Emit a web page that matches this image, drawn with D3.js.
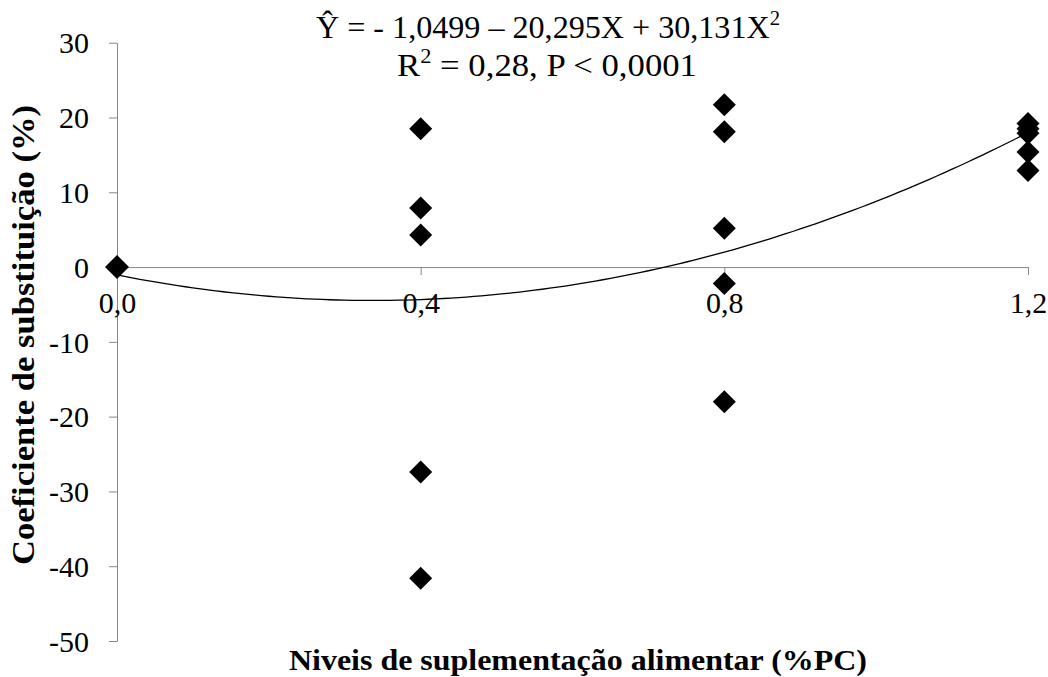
<!DOCTYPE html>
<html>
<head>
<meta charset="utf-8">
<script src="https://cdn.jsdelivr.net/npm/d3@7"></script>
<style>
  html, body { margin: 0; padding: 0; background: #fff; }
  svg { display: block; }
  text { font-family: "Liberation Serif", "Times New Roman", serif; fill: #000; }
</style>
</head>
<body>
<svg id="chart" width="1048" height="677"></svg>
<script>
// ---- data ----
const levels = [0, 0.4, 0.8, 1.2];
const valuesAt00 = [0, 0, 0, 0, 0];
const valuesAt04 = [18.5, 7.9, 4.3, -27.4, -41.6];
const valuesAt08 = [21.7, 18.1, 5.2, -2.2, -18.0];
const valuesAt12 = [19.2, 18.5, 17.9, 15.4, 12.9];
const seriesValues = [valuesAt00, valuesAt04, valuesAt08, valuesAt12];
const yTicks = [-50, -40, -30, -20, -10, 0, 10, 20, 30];
const yTickLabels = ["-50", "-40", "-30", "-20", "-10", "0", "10", "20", "30"];
const xTicks = [0, 0.4, 0.8, 1.2];
const xTickLabels = ["0,0", "0,4", "0,8", "1,2"];
const regressionCoefs = [-1.0499, -20.295, 30.131]; // Ŷ = a + bX + cX²
const titleLine1 = "Ŷ = - 1,0499 – 20,295X + 30,131X";
const titleLine2 = "R";
const xTitle = "Niveis de suplementação alimentar (%PC)";
const yTitle = "Coeficiente de substituição (%)";

// ---- layout ----
const svg = d3.select("#chart");
const x = d3.scaleLinear().domain([0, 1.2]).range([117, 1028]);
const y = d3.scaleLinear().domain([-50, 30]).range([641, 42.7]);
const axisColor = "#878787";
const fontFam = "Liberation Serif, Times New Roman, serif";

// y axis
const yAxis = d3.axisLeft(y)
  .tickValues(yTicks)
  .tickFormat((d, i) => yTickLabels[i])
  .tickSize(8)
  .tickSizeOuter(0);
const gy = svg.append("g").attr("transform", `translate(${x(0)},0)`).call(yAxis);
gy.select(".domain").attr("stroke", axisColor);
gy.selectAll(".tick line").attr("stroke", axisColor);
gy.selectAll(".tick text")
  .attr("x", -28)
  .attr("dy", "0.34em")
  .attr("font-size", 30)
  .attr("font-family", fontFam)
  .attr("fill", "#000");

// x axis at y = 0
const xAxis = d3.axisBottom(x)
  .tickValues(xTicks)
  .tickFormat((d, i) => xTickLabels[i])
  .tickSize(8)
  .tickSizeOuter(0);
const gx = svg.append("g").attr("transform", `translate(0,${y(0)})`).call(xAxis);
gx.select(".domain").attr("stroke", axisColor);
gx.selectAll(".tick line").attr("stroke", axisColor);
gx.selectAll(".tick text")
  .attr("y", 46)
  .attr("dy", 0)
  .attr("font-size", 30)
  .attr("font-family", fontFam)
  .attr("fill", "#000");

// regression curve
const curveX = d3.range(0, 1.2001, 0.01);
const line = d3.line()
  .x(d => x(d))
  .y(d => y(regressionCoefs[0] + regressionCoefs[1] * d + regressionCoefs[2] * d * d));
svg.append("path")
  .datum(curveX)
  .attr("d", line)
  .attr("fill", "none")
  .attr("stroke", "#000")
  .attr("stroke-width", 1.3);

// points
const points = [];
levels.forEach((lv, i) => seriesValues[i].forEach(v => points.push({ lv, v })));
const half = 11.5;
svg.append("g").selectAll("path")
  .data(points)
  .join("path")
  .attr("transform", d => `translate(${x(d.lv)},${y(d.v)})`)
  .attr("d", `M0,${-half}L${half},0L0,${half}L${-half},0Z`)
  .attr("fill", "#000");

// title (equation)
const t1 = svg.append("text")
  .attr("x", 548).attr("y", 38)
  .attr("text-anchor", "middle")
  .attr("font-size", 31)
  .attr("textLength", 464)
  .attr("lengthAdjust", "spacingAndGlyphs");
t1.append("tspan").text(titleLine1);
t1.append("tspan").attr("dy", -13).attr("font-size", 20).text("2");

const t2 = svg.append("text")
  .attr("x", 547).attr("y", 76)
  .attr("text-anchor", "middle")
  .attr("font-size", 31)
  .attr("textLength", 300)
  .attr("lengthAdjust", "spacingAndGlyphs");
t2.append("tspan").text(titleLine2);
t2.append("tspan").attr("dy", -13).attr("font-size", 20).text("2");
t2.append("tspan").attr("dy", 13).text(" = 0,28, P < 0,0001");

// x title
svg.append("text")
  .attr("x", 578).attr("y", 670)
  .attr("text-anchor", "middle")
  .attr("font-size", 30)
  .attr("font-weight", "bold")
  .attr("textLength", 578)
  .attr("lengthAdjust", "spacingAndGlyphs")
  .text(xTitle);

// y title
svg.append("text")
  .attr("transform", "translate(34,335) rotate(-90)")
  .attr("text-anchor", "middle")
  .attr("font-size", 31)
  .attr("font-weight", "bold")
  .attr("textLength", 460)
  .attr("lengthAdjust", "spacingAndGlyphs")
  .text(yTitle);
</script>
</body>
</html>
